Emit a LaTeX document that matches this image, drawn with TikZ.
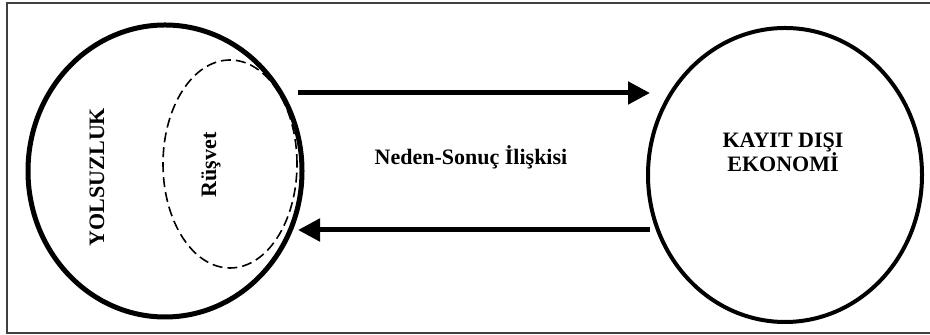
\documentclass[tikz,border=0pt]{standalone}
\usepackage{fontspec}
\setmainfont{Liberation Serif}
\usetikzlibrary{
    shapes.geometric,
    arrows.meta,
    positioning,
    calc
}

\begin{document}
\begin{tikzpicture}[
        x=0.5pt, y=0.5pt,
        blob/.style={ellipse, draw, line width=2.5pt, inner sep=0pt, outer sep=0pt},
        dashblob/.style={ellipse, draw, line width=0.8pt, dash pattern=on 5pt off 2.5pt, inner sep=0pt, outer sep=0pt},
        arrow/.style={-{Triangle[length=11pt, width=11pt]}, line width=2.5pt},
        lbl/.style={font=\bfseries\fontsize{11}{12}\selectfont, align=center, inner sep=0pt}
    ]
        \useasboundingbox (0,0) rectangle (930,335);

        % Frame
        \draw[line width=0.6pt, black!75] (931,2) -- (7,2) -- (7,332) -- (931,332);

        % Corruption
        \node[blob, minimum width=137pt, minimum height=146pt] (yolsuzluk) at (165,164) {};
        \node[dashblob, minimum width=67pt, minimum height=104pt] (rusvet) at (230,171) {};
        \node[lbl, rotate=90] (yolsuzluklbl) at (97,158) {YOLSUZLUK};
        \node[lbl, rotate=90] (rusvetlbl) at (211,170) {Rüşvet};

        % Informal economy
        \node[blob, line width=2pt, minimum width=137pt, minimum height=147pt] (kayitdisi) at (785,160) {};
        \node[lbl] (kayitdisilbl) at (783,183) {KAYIT DIŞI\\EKONOMİ};

        % Relation
        \node[lbl] (neden) at (471,178) {Neden-Sonuç İlişkisi};

        % Arrows
        \draw[arrow] ([shift={(-4,78)}]yolsuzluk.east) -- ([shift={(2,82)}]kayitdisi.west);
        \draw[arrow] ([shift={(2,-55)}]kayitdisi.west) -- ([shift={(-4,-59)}]yolsuzluk.east);
    \end{tikzpicture}
\end{document}
